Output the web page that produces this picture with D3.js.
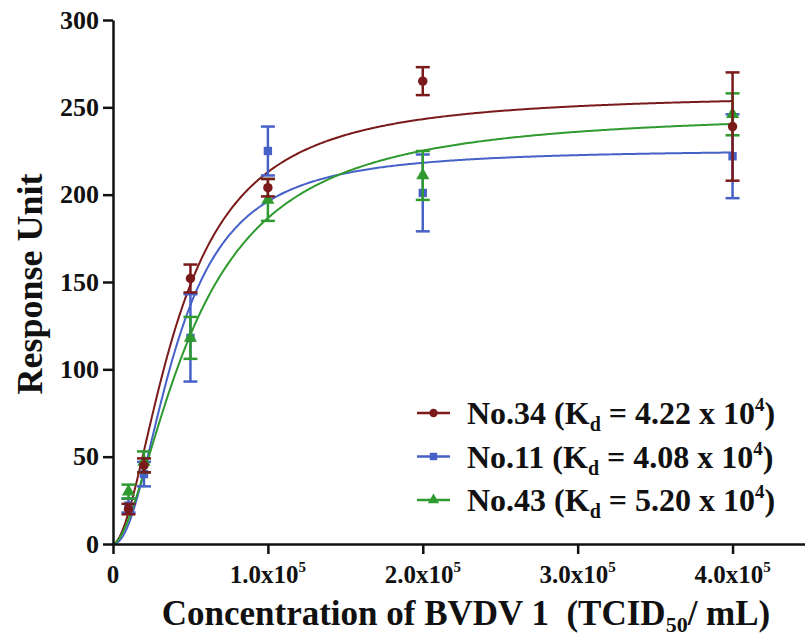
<!DOCTYPE html>
<html>
<head>
<meta charset="utf-8">
<script src="https://cdn.jsdelivr.net/npm/d3@7"></script>
<style>
  body { margin: 0; background: #fff; }
  svg text { font-family: "Liberation Serif", "Times New Roman", serif; font-weight: bold; fill: #111; }
</style>
</head>
<body>
<svg id="chart" width="805" height="640"></svg>
<script>
// concentrations (TCID50/mL)
const concentrations = [1e4, 2e4, 5e4, 1e5, 2e5, 4e5];

// mean response and SD for each clone
const no34Mean = [20, 45, 152, 204, 265, 239];
const no34Sd = [3, 4, 8, 5, 8, 31];
const no11Mean = [22, 40, 118, 225, 201, 222];
const no11Sd = [4, 7, 25, 14, 22, 24];
const no43Mean = [30, 47, 118, 197, 211, 246];
const no43Sd = [4, 6, 12, 12, 14, 12];

// fitted binding curve parameters (Hill form)
const fitBmax = [258, 226, 248];
const fitKd = [4.22e4, 4.08e4, 5.20e4];
const fitHill = [1.8, 2.1, 1.7];

const seriesNames = ["No.34", "No.11", "No.43"];
const kdLabels = ["4.22", "4.08", "5.20"];
const seriesColors = ["#7a1a1a", "#4661c8", "#2f9a2f"];
const markerTypes = [d3.symbolCircle, d3.symbolSquare, d3.symbolTriangle];

const yTicks = [0, 50, 100, 150, 200, 250, 300];
const xTicks = [0, 1e5, 2e5, 3e5, 4e5];
const xTickMantissa = ["0", "1.0", "2.0", "3.0", "4.0"];

const svg = d3.select("#chart");

const x = d3.scaleLinear().domain([0, 4.5e5]).range([113, 810]);
const y = d3.scaleLinear().domain([0, 300]).range([544, 20]);

const series = [
    { mean: no34Mean, sd: no34Sd },
    { mean: no11Mean, sd: no11Sd },
    { mean: no43Mean, sd: no43Sd }
];

// fitted curves
const curveX = d3.range(0, 4e5 + 1, 1000);
const line = d3.line()
    .x(d => x(d[0]))
    .y(d => y(d[1]));

series.forEach((s, i) => {
    const pts = curveX.map(c => {
        const a = Math.pow(c, fitHill[i]);
        return [c, fitBmax[i] * a / (Math.pow(fitKd[i], fitHill[i]) + a)];
    });
    svg.append("path")
        .datum(pts)
        .attr("fill", "none")
        .attr("stroke", seriesColors[i])
        .attr("stroke-width", 2)
        .attr("d", line);
});

// error bars + markers, drawn blue, green, red
[1, 2, 0].forEach(i => {
    const s = series[i];
    const g = svg.append("g").attr("stroke", seriesColors[i]).attr("fill", seriesColors[i]);
    concentrations.forEach((c, j) => {
        const cx = x(c);
        const top = y(s.mean[j] + s.sd[j]);
        const bot = y(s.mean[j] - s.sd[j]);
        g.append("line").attr("x1", cx).attr("x2", cx).attr("y1", top).attr("y2", bot).attr("stroke-width", 2.5);
        g.append("line").attr("x1", cx - 7).attr("x2", cx + 7).attr("y1", top).attr("y2", top).attr("stroke-width", 2.5);
        g.append("line").attr("x1", cx - 7).attr("x2", cx + 7).attr("y1", bot).attr("y2", bot).attr("stroke-width", 2.5);
        g.append("path")
            .attr("d", d3.symbol().type(markerTypes[i]).size(i == 2 ? 75 : 70)())
            .attr("transform", `translate(${cx},${y(s.mean[j])})`)
            .attr("stroke", "none");
    });
});

// axes
const yAxis = svg.append("g")
    .attr("transform", "translate(113,0)")
    .call(d3.axisLeft(y).tickValues(yTicks).tickSize(10).tickPadding(4).tickSizeOuter(0));
const xAxis = svg.append("g")
    .attr("transform", "translate(0,544)")
    .call(d3.axisBottom(x).tickValues(xTicks).tickSize(10).tickFormat("").tickSizeOuter(0));

[yAxis, xAxis].forEach(a => {
    a.select(".domain").attr("stroke", "#111").attr("stroke-width", 2.5);
    a.selectAll(".tick line").attr("stroke", "#111").attr("stroke-width", 2.5);
});
yAxis.selectAll(".tick text")
    .attr("font-size", 26)
    .attr("font-family", null)
    .attr("fill", "#111");

// x tick labels with superscript
xTicks.forEach((t, k) => {
    const txt = svg.append("text")
        .attr("x", x(t))
        .attr("y", 583)
        .attr("text-anchor", "middle")
        .attr("font-size", 25);
    if (t === 0) {
        txt.text(xTickMantissa[k]);
    } else {
        txt.append("tspan").text(xTickMantissa[k] + "x10");
        txt.append("tspan").attr("font-size", 15).attr("dy", -11).text("5");
    }
});

// axis titles
const xt = svg.append("text")
    .attr("x", 466)
    .attr("y", 625)
    .attr("text-anchor", "middle")
    .attr("font-size", 35);
xt.append("tspan").text("Concentration of BVDV 1\u00a0\u00a0(TCID");
xt.append("tspan").attr("font-size", 22).attr("dy", 7).text("50");
xt.append("tspan").attr("dy", -7).text("/ mL)");

svg.append("text")
    .attr("transform", "translate(42,284) rotate(-90)")
    .attr("text-anchor", "middle")
    .attr("font-size", 36)
    .text("Response Unit");

// legend
seriesNames.forEach((name, i) => {
    const ly = 413 + i * 43.5;
    svg.append("line")
        .attr("x1", 417).attr("x2", 450).attr("y1", ly).attr("y2", ly)
        .attr("stroke", seriesColors[i]).attr("stroke-width", 2.5);
    svg.append("path")
        .attr("d", d3.symbol().type(markerTypes[i]).size(55)())
        .attr("transform", `translate(433.5,${ly})`)
        .attr("fill", seriesColors[i]);
    const t = svg.append("text")
        .attr("x", 467)
        .attr("y", ly + 11)
        .attr("font-size", 32);
    t.append("tspan").text(name + " (K");
    t.append("tspan").attr("font-size", 20).attr("dy", 7).text("d");
    t.append("tspan").attr("dy", -7).text(" = " + kdLabels[i] + " x 10");
    t.append("tspan").attr("font-size", 19).attr("dy", -13).text("4");
    t.append("tspan").attr("dy", 13).text(")");
});
</script>
</body>
</html>
